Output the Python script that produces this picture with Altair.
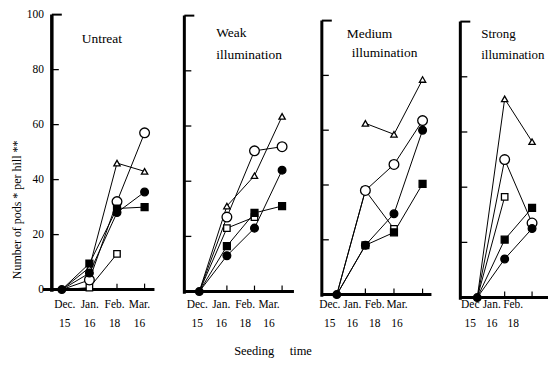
import altair as alt
import pandas as pd

# ---------------- data ----------------
months = ["Dec.", "Jan.", "Feb.", "Mar."]
months_strong = ["Dec", "Jan.", "Feb."]
days = ["15", "16", "18", "16"]
y_ticks = [0, 20, 40, 60, 80, 100]
series = ["open square", "open triangle", "open circle", "filled circle", "filled square"]

untreat = {
    "open circle":   [0, 3.5, 32, 57],
    "filled circle": [0, 6, 28, 35.5],
    "open triangle": [0, 8, 46, 43],
    "open square":   [0, 0.7, 13, None],
    "filled square": [0, 9.5, 29.5, 30],
}
weak = {
    "open circle":   [0, 27, 51, 52.5],
    "filled circle": [0, 13, 23, 44],
    "open triangle": [0, 31, 42, 63.5],
    "open square":   [0, 23, 27, None],
    "filled square": [0, 16.5, 28.5, 31],
}
medium = {
    "open circle":   [0, 38, 47.5, 63.5],
    "filled circle": [0, 18, 29.5, 60],
    "open triangle": [None, 62.5, 58.5, 78.5],
    "open square":   [0, 38, 24, None],
    "filled square": [0, 18, 22.7, 40.4],
}
strong = {
    "open circle":   [0, 50, 27],
    "filled circle": [0, 14, 25],
    "open triangle": [0, 72, 56.5],
    "open square":   [0, 36.5, None],
    "filled square": [0, 21, 32.5],
}
panel_data = [untreat, weak, medium, strong]
panel_months = [months, months, months, months_strong]
title_lines = [["Untreat"], ["Weak", "illumination"], ["Medium", "illumination"], ["Strong", "illumination"]]
y_title = "Number of pods * per hill **"
x_title = "Seeding\u00a0\u00a0\u00a0\u00a0\u00a0time"

# ---------------- styling / geometry ----------------
SERIF = "Liberation Serif"
TOP = 14
H = 284

geom = [
    dict(ax=52, top=14, zero=290, d=27.7, o=10, w=133, x0=-9, x1=103, lab0=65, labs=25,
         titles=[(30, 24)], yw=3.5, tfs=13.5),
    dict(ax=185, top=15, zero=292, d=27.7, o=15, w=138, x0=-1, x1=110, lab0=198, labs=24,
         titles=[(32, 18), (32, 41)], yw=3, tfs=13.5),
    dict(ax=323, top=20, zero=295, d=28.7, o=15, w=139, x0=-1, x1=110, lab0=331, labs=22.5,
         titles=[(25, 19), (30, 39)], yw=3, tfs=13.5),
    dict(ax=462, top=21, zero=298, d=27.5, o=17, w=88, x0=-1, x1=88, lab0=472, labs=21.5,
         titles=[(21, 19), (21, 41)], yw=3, tfs=13),
]

styles = {
    "open square":   dict(shape="square", fill="white", size=42),
    "open triangle": dict(shape="triangle-up", fill="white", size=40),
    "open circle":   dict(shape="circle", fill="white", size=95),
    "filled circle": dict(shape="circle", fill="black", size=60),
    "filled square": dict(shape="square", fill="black", size=48),
}


def panel(i):
    g = geom[i]
    data = panel_data[i]
    mlabels = panel_months[i]
    n = len(mlabels)
    k = (g["zero"] - g["top"]) / 100.0
    ymax = 100 + (g["top"] - TOP) / k
    ymin = -(TOP + H - g["zero"]) / k
    ys = alt.Scale(domain=[ymin, ymax], nice=False, zero=False)
    xs = alt.Scale(domain=[-g["o"] / g["d"], (g["w"] - g["o"]) / g["d"]], nice=False, zero=False)
    zero_rel = g["zero"] - TOP

    rows = []
    for s in series:
        for xi, v in enumerate(data[s]):
            if v is None:
                continue
            rows.append({"s": s, "xi": xi, "v": v, "show": 1 if (xi > 0 or s == "filled circle") else 0})
    df = pd.DataFrame(rows)
    X = alt.X("xi:Q", scale=xs, axis=None)
    Y = alt.Y("v:Q", scale=ys, axis=None)

    layers = []
    # y axis line
    layers.append(alt.Chart(pd.DataFrame({"y0": [-0.8], "y1": [100]})).mark_rule(
        color="black", strokeWidth=g["yw"]).encode(
        x=alt.value(0), y=alt.Y("y0:Q", scale=ys, axis=None), y2="y1:Q"))
    # y ticks
    layers.append(alt.Chart(pd.DataFrame({"t": y_ticks[1:-1]})).mark_rule(color="black", strokeWidth=1.3).encode(
        y=alt.Y("t:Q", scale=ys, axis=None), x=alt.value(0), x2=alt.value(7)))
    layers.append(alt.Chart(pd.DataFrame({"t": y_ticks[-1:]})).mark_rule(color="black", strokeWidth=2).encode(
        y=alt.Y("t:Q", scale=ys, axis=None), x=alt.value(0), x2=alt.value(10)))
    # x axis line
    layers.append(alt.Chart(pd.DataFrame({"t": [0]})).mark_rule(color="black", strokeWidth=3).encode(
        y=alt.Y("t:Q", scale=ys, axis=None), x=alt.value(g["x0"]), x2=alt.value(g["x1"])))
    # x ticks
    layers.append(alt.Chart(pd.DataFrame({"xi": list(range(1, n))})).mark_rule(color="black", strokeWidth=1.2).encode(
        x=alt.X("xi:Q", scale=xs, axis=None), y=alt.value(zero_rel), y2=alt.value(zero_rel - 6)))
    # lines
    layers.append(alt.Chart(df).mark_line(color="black", strokeWidth=1).encode(
        x=X, y=Y, detail="s:N", order="xi:Q"))
    # points
    for s in series:
        st = styles[s]
        layers.append(alt.Chart(df).transform_filter(f"datum.s == '{s}' && datum.show == 1").mark_point(
            shape=st["shape"], filled=True, fill=st["fill"], stroke="black", strokeWidth=1.3,
            size=st["size"], opacity=1).encode(x=X, y=Y))
    # x labels
    dl = pd.DataFrame({
        "lab": mlabels, "day": days[:n],
        "lp": [(g["lab0"] + j * g["labs"] - g["ax"] - g["o"]) / g["d"] for j in range(n)],
    })
    layers.append(alt.Chart(dl).mark_text(font=SERIF, fontSize=11.5, baseline="middle", align="center").encode(
        x=alt.X("lp:Q", scale=xs, axis=None), y=alt.value(305 - TOP), text="lab:N"))
    layers.append(alt.Chart(dl).mark_text(font=SERIF, fontSize=11.5, baseline="middle", align="center").encode(
        x=alt.X("lp:Q", scale=xs, axis=None), y=alt.value(325 - TOP), text="day:N"))
    # panel title
    for (tx, ty), t in zip(g["titles"], title_lines[i]):
        layers.append(alt.Chart(pd.DataFrame({"t": [t]})).mark_text(
            font=SERIF, fontSize=g["tfs"], align="left", baseline="middle").encode(
            x=alt.value(tx), y=alt.value(ty), text="t:N"))
    if i == 0:
        layers.append(alt.Chart(pd.DataFrame({"t": y_ticks})).mark_text(
            font=SERIF, fontSize=11.5, align="right", baseline="middle").encode(
            y=alt.Y("t:Q", scale=ys, axis=None), x=alt.value(-8), text="t:Q"))
        layers.append(alt.Chart(pd.DataFrame({"t": [y_title]})).mark_text(
            font=SERIF, fontSize=12, align="center", baseline="middle", angle=270).encode(
            x=alt.value(17 - g["ax"]), y=alt.value(210 - TOP), text="t:N"))
    if i == 1:
        layers.append(alt.Chart(pd.DataFrame({"t": [x_title]})).mark_text(
            font=SERIF, fontSize=12.5, align="center", baseline="middle").encode(
            x=alt.value(274 - g["ax"]), y=alt.value(352 - TOP), text="t:N"))
    return alt.layer(*layers).properties(width=g["w"], height=H)


chart = alt.hconcat(*[panel(i) for i in range(4)], spacing=0, bounds="flush").properties(
    padding={"left": 3, "top": 0, "right": 0, "bottom": 0},
    background="white",
).configure_view(stroke=None)

chart.save("out.html", embed_options={"renderer": "svg", "actions": False})
